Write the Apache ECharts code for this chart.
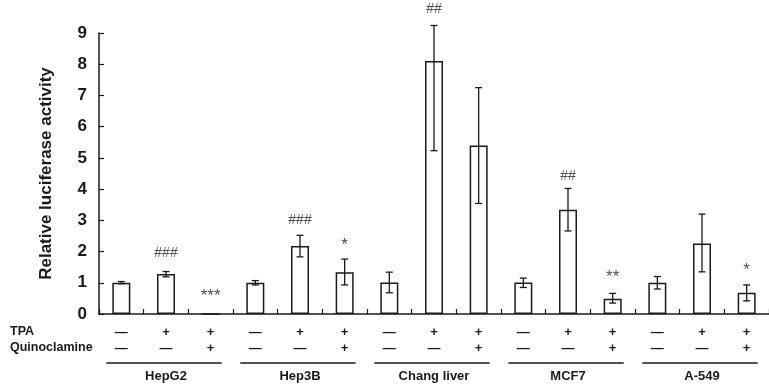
<!DOCTYPE html>
<html>
<head>
<meta charset="utf-8">
<script src="https://cdn.jsdelivr.net/npm/echarts@6/dist/echarts.min.js"></script>
<style>
  html, body { margin: 0; padding: 0; background: #fff; }
  #chart { width: 769px; height: 385px; }
</style>
</head>
<body>
<div id="chart"></div>
<script>
// treatment rows under each bar
const tpa = ['—', '+', '+', '—', '+', '+', '—', '+', '+', '—', '+', '+', '—', '+', '+'];
const quin = ['—', '—', '+', '—', '—', '+', '—', '—', '+', '—', '—', '+', '—', '—', '+'];
const groups = ['HepG2', 'Hep3B', 'Chang liver', 'MCF7', 'A-549'];

// bar heights and error bar ends
const means = [1.0, 1.28, 0, 1.0, 2.18, 1.34, 1.01, 8.1, 5.4, 1.01, 3.34, 0.49, 1.0, 2.26, 0.68];
const errHigh = [1.04, 1.36, null, 1.07, 2.52, 1.76, 1.34, 9.24, 7.25, 1.15, 4.02, 0.66, 1.2, 3.2, 0.93];
const errLow = [0.97, 1.19, null, 0.93, 1.83, 0.93, 0.68, 5.23, 3.54, 0.85, 2.66, 0.35, 0.8, 1.35, 0.42];

// significance marks and where they sit
const marks = ['', '###', '***', '', '###', '*', '', '##', '', '', '##', '**', '', '', '*'];
const markY = [null, 1.95, 0.58, null, 3.0, 2.2, null, 9.75, null, null, 4.43, 1.18, null, null, 1.39];

const yTicks = [0, 9, 1]; // min, max, interval

const cats = means.map((_, i) => 'c' + i);
const font = 'Liberation Sans, Arial, sans-serif';
const ink = '#1a1a1a';

const chart = echarts.init(document.getElementById('chart'));

const option = {
  animation: false,
  grid: { left: 99, right: -9, top: 33, bottom: 71, containLabel: false },
  xAxis: [
    {
      type: 'category',
      data: cats,
      axisLine: { lineStyle: { color: ink, width: 1.5 } },
      axisTick: { show: true, inside: true, length: 5, lineStyle: { color: ink, width: 1.2 } },
      axisLabel: {
        interval: 0,
        margin: 10,
        fontFamily: font,
        fontWeight: 'bold',
        fontSize: 13,
        lineHeight: 16,
        color: ink,
        formatter: (v, i) => tpa[i] + '\n' + quin[i]
      }
    },
    {
      type: 'category',
      data: groups,
      position: 'bottom',
      offset: 48,
      axisLine: { show: false },
      axisTick: { show: false },
      axisLabel: {
        interval: 0,
        fontFamily: font,
        fontWeight: 'bold',
        fontSize: 13,
        color: ink
      }
    }
  ],
  yAxis: {
    type: 'value',
    min: yTicks[0],
    max: yTicks[1],
    interval: yTicks[2],
    name: 'Relative luciferase activity',
    nameLocation: 'middle',
    nameGap: 44,
    nameTextStyle: { fontFamily: font, fontWeight: 'bold', fontSize: 17, color: ink },
    axisLine: { show: true, lineStyle: { color: ink, width: 1.5 } },
    axisTick: { show: true, inside: true, length: 5, lineStyle: { color: ink, width: 1.2 } },
    axisLabel: { margin: 12, fontFamily: font, fontWeight: 'bold', fontSize: 17, color: ink },
    splitLine: { show: false }
  },
  series: [
    {
      type: 'bar',
      data: means,
      barWidth: 18,
      itemStyle: { color: '#fff', borderColor: ink, borderWidth: 1.5 }
    },
    {
      type: 'custom',
      clip: false,
      z: 5,
      data: means.map((_, i) => [i, errLow[i], errHigh[i]]).filter(d => d[1] != null),
      renderItem: (params, api) => {
        const x = api.value(0);
        const lo = api.coord([x, api.value(1)]);
        const hi = api.coord([x, api.value(2)]);
        const cap = 3.5;
        const style = { stroke: ink, lineWidth: 1.3 };
        return {
          type: 'group',
          children: [
            { type: 'line', shape: { x1: lo[0], y1: lo[1], x2: hi[0], y2: hi[1] }, style },
            { type: 'line', shape: { x1: hi[0] - cap, y1: hi[1], x2: hi[0] + cap, y2: hi[1] }, style },
            { type: 'line', shape: { x1: lo[0] - cap, y1: lo[1], x2: lo[0] + cap, y2: lo[1] }, style }
          ]
        };
      }
    },
    {
      type: 'scatter',
      clip: false,
      symbolSize: 0,
      data: marks.map((m, i) => [i, markY[i], m]).filter(d => d[1] != null),
      label: {
        show: true,
        position: 'inside',
        // asterisks are drawn a bit larger than the hashes
        formatter: p => p.value[2].startsWith('*') ? '{star|' + p.value[2] + '}' : p.value[2],
        fontFamily: font,
        fontSize: 14,
        color: '#222',
        rich: {
          star: { fontFamily: font, fontSize: 17, color: '#222' }
        }
      }
    }
  ]
};
chart.setOption(option);

// row captions and group underlines, placed from the category scale
const gfx = [
  { type: 'text', left: 10, top: 325, style: { text: 'TPA', font: 'bold 12.5px ' + font, fill: ink } },
  { type: 'text', left: 10, top: 341, style: { text: 'Quinoclamine', font: 'bold 12.5px ' + font, fill: ink } }
];
groups.forEach((g, k) => {
  const x0 = chart.convertToPixel({ xAxisIndex: 0 }, cats[k * 3]);
  const x2 = chart.convertToPixel({ xAxisIndex: 0 }, cats[k * 3 + 2]);
  const y = chart.convertToPixel({ yAxisIndex: 0 }, 0) + 49;
  gfx.push({
    type: 'line',
    shape: { x1: x0 - 15, y1: y, x2: x2 + 11, y2: y },
    style: { stroke: ink, lineWidth: 1.5 }
  });
});
chart.setOption({ graphic: gfx });
</script>
</body>
</html>
